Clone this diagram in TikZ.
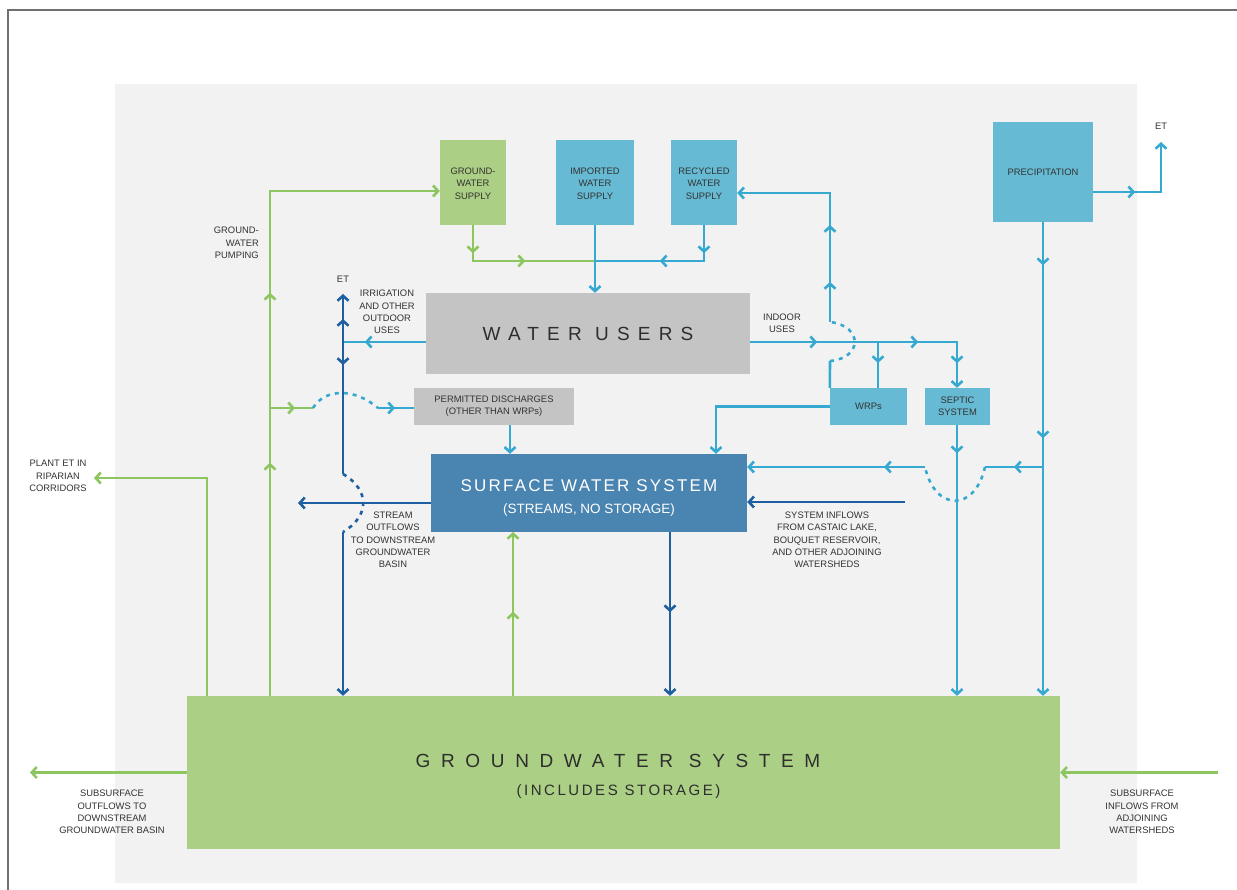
\documentclass[tikz,border=0pt]{standalone}
\usepackage{fontspec}
\setmainfont{Liberation Sans}
\newfontfamily\spacedusers[LetterSpace=43]{Liberation Sans}
\newfontfamily\spacedgw[LetterSpace=56]{Liberation Sans}
\newfontfamily\spacedsws[LetterSpace=13]{Liberation Sans}
\newfontfamily\spacedsub[LetterSpace=17]{Liberation Sans}
\usepackage{tikz}
\usetikzlibrary{arrows.meta}
\usetikzlibrary{positioning,decorations.markings}
\usepackage{xcolor}
\definecolor{bggray}{HTML}{F2F2F2}
\definecolor{framegray}{HTML}{707070}
\definecolor{linegreen}{HTML}{8DC55E}
\definecolor{boxgreen}{HTML}{ABCF84}
\definecolor{lineblue}{HTML}{35A9D0}
\definecolor{boxblue}{HTML}{66BAD3}
\definecolor{linedark}{HTML}{1D5FA0}
\definecolor{swsblue}{HTML}{4A84B0}
\definecolor{boxgray}{HTML}{C4C4C4}
\definecolor{txtgray}{HTML}{333333}
\tikzset{
    box/.style={
        inner sep=0pt,
        align=center,
        font=\fontsize{9.4}{12.3}\selectfont,
        text=txtgray
    },
    gbox/.style={box, fill=boxgreen},
    bbox/.style={box, fill=boxblue},
    ubox/.style={box, fill=boxgray},
    lbl/.style={
        inner sep=0pt,
        align=center,
        font=\fontsize{9.4}{12.3}\selectfont,
        text=txtgray
    },
    gline/.style={draw=linegreen, line width=2.6pt},
    bline/.style={draw=lineblue, line width=2.6pt},
    dline/.style={draw=linedark, line width=2.6pt},
    hop/.style={dash pattern=on 4pt off 5pt},
    midarr/.style={postaction={decorate,decoration={markings,
        mark=at position #1 with {\arrow{>}}}}},
    >={Straight Barb[length=5pt,width=11pt]}
}

\begin{document}
\begin{tikzpicture}[x=1pt, y=-1pt]
  \useasboundingbox (0,0) rectangle (1237,890);
  % Page frame and panel
  \draw[framegray, line width=1.5pt] (8,890) -- (8,10) -- (1237,10);
  \fill[bggray] (115,84) rectangle (1137,883);

  % Supplies
  \node[gbox, minimum width=66pt, minimum height=85pt] (gws) at (473,182.5) {\strut GROUND-\\WATER\\SUPPLY};
  \node[bbox, minimum width=78pt, minimum height=85pt] (imp) at (595,182.5) {\strut IMPORTED\\WATER\\SUPPLY};
  \node[bbox, minimum width=66pt, minimum height=85pt] (rec) at (704,182.5) {\strut RECYCLED\\WATER\\SUPPLY};
  \node[bbox, minimum width=100pt, minimum height=100pt] (prec) at (1043,172) {PRECIPITATION};

  % Users and discharges
  \node[ubox, minimum width=324pt, minimum height=81pt] (users) at (588,333.5)
    {\spacedusers\fontsize{19}{20}\selectfont\color{black!82}WATER USERS};
  \node[ubox, minimum width=160pt, minimum height=37pt] (perm) at (494,406.5) {PERMITTED DISCHARGES\\(OTHER THAN WRPs)};
  \node[bbox, minimum width=77pt, minimum height=37pt] (wrp) at (868.5,406.5) {WRPs};
  \node[bbox, minimum width=65pt, minimum height=37pt] (sep) at (957.5,406.5) {SEPTIC\\SYSTEM};

  % Systems
  \node[box, fill=swsblue, text=white, minimum width=316pt, minimum height=78pt] (sws) at (589,493)
    {\spacedsws\fontsize{17}{20}\selectfont\rule{0pt}{21.5pt}SURFACE WATER SYSTEM\\[9pt]
     \normalfont\fontsize{13.5}{16}\selectfont (STREAMS, NO STORAGE)};
  \node[gbox, minimum width=873pt, minimum height=153pt] (gw) at (623.5,772.5)
    {\spacedgw\fontsize{19}{20}\selectfont\color{black!82}\rule{0pt}{21.5pt}\hspace{-11pt}GROUNDWATER SYSTEM\\[16pt]
     \spacedsub\fontsize{15}{18}\selectfont\color{black!82}\hspace{-10pt}(INCLUDES STORAGE)};

  % Labels
  \node[lbl] (etTop) at (1161,126) {ET};
  \node[lbl] (etLeft) at (343,279) {ET};
  \node[lbl] (irrig) at (387,312) {IRRIGATION\\AND OTHER\\OUTDOOR\\USES};
  \node[lbl, align=right, anchor=east] (pump) at (259,243) {GROUND-\\WATER\\PUMPING};
  \node[lbl] (indoor) at (782,323) {INDOOR\\USES};
  \node[lbl] (ripar) at (58,476) {PLANT ET IN\\RIPARIAN\\CORRIDORS};
  \node[lbl] (stream) at (393,540) {STREAM\\OUTFLOWS\\TO DOWNSTREAM\\GROUNDWATER\\BASIN};
  \node[lbl] (inflow) at (827,540) {SYSTEM INFLOWS\\FROM CASTAIC LAKE,\\BOUQUET RESERVOIR,\\AND OTHER ADJOINING\\WATERSHEDS};
  \node[lbl] (subout) at (112,812) {SUBSURFACE\\OUTFLOWS TO\\DOWNSTREAM\\GROUNDWATER BASIN};
  \node[lbl] (subin) at (1142,812) {SUBSURFACE\\INFLOWS FROM\\ADJOINING\\WATERSHEDS};

  % Bend and junction points
  \coordinate (pumpTop) at (270,191);
  \coordinate (pumpBr) at (270,408);
  \coordinate (hopA) at (313,408);
  \coordinate (hopB) at (378,408);
  \coordinate (riparTop) at (207,478);
  \coordinate (riparEnd) at (94,478);
  \coordinate (gwUp) at (513,532);
  \coordinate (supJ) at (595,261);
  \coordinate (gwsJ) at (473,261);
  \coordinate (recJ) at (704,261);
  \coordinate (subOutEnd) at (30,772.5);
  \coordinate (subInStart) at (1218,772.5);
  \coordinate (irrJ) at (343,342);
  \coordinate (irrTop) at (343,294);
  \coordinate (irrHopA) at (343,474);
  \coordinate (irrHopB) at (343,532);
  \coordinate (inJ) at (957,342);
  \coordinate (wrpJ) at (878,342);
  \coordinate (wrpHopA) at (830,361);
  \coordinate (wrpHopB) at (830,322);
  \coordinate (recBack) at (830,193);
  \coordinate (wrpL) at (716,406.5);
  \coordinate (permOut) at (510,425);
  \coordinate (precJ) at (1043,467);
  \coordinate (precHopA) at (985,467);
  \coordinate (precHopB) at (925,467);
  \coordinate (etJ) at (1161,192);
  \coordinate (etEnd) at (1161,142);
  \coordinate (swsOut) at (298,503);
  \coordinate (inflowStart) at (905,502);
  \coordinate (swsDown) at (670,532);

  % Green flows
  \draw[gline, ->, midarr=233pt, midarr=403pt] (gw.north -| pumpTop) -- (pumpTop) -- (gws.west |- pumpTop);
  \draw[gline, midarr=25pt] (pumpBr) -- (hopA);
  \draw[bline, hop] (hopA) .. controls (325,388) and (355,388) .. (hopB);
  \draw[bline, midarr=17pt] (hopB) -- (perm.west |- hopB);
  \draw[gline, ->] (gw.north -| riparTop) -- (riparTop) -- (riparEnd);
  \draw[gline, ->, midarr=84pt] (gw.north -| gwUp) -- (gwUp);
  \draw[gline, midarr=28pt, midarr=88pt] (gws.south) -- (gwsJ) -- (supJ);
  \draw[gline, ->] (gw.west) -- (subOutEnd);
  \draw[gline, ->] (subInStart) -- (gw.east);

  % Light blue flows
  \draw[bline, ->] (imp.south) -- (imp.south |- users.north);
  \draw[bline, midarr=28pt, midarr=80pt] (rec.south) -- (recJ) -- (supJ);
  \draw[bline, midarr=61pt] (users.west |- irrJ) -- (irrJ);
  \draw[bline, ->, midarr=67pt, midarr=168pt, midarr=228pt] (users.east |- irrJ) -- (inJ) -- (inJ |- sep.north);
  \draw[bline, midarr=21pt] (wrpJ) -- (wrpJ |- wrp.north);
  \draw[bline] (wrp.north west) -- (wrpHopA);
  \draw[bline, hop] (wrpHopA) .. controls (863,358) and (863,326) .. (wrpHopB);
  \draw[bline, ->, midarr=40pt, midarr=97pt] (wrpHopB) -- (recBack) -- (rec.east |- recBack);
  \draw[bline, ->] (wrp.west) -- (wrpL) -- (wrpL |- sws.north);
  \draw[bline, ->] (permOut) -- (permOut |- sws.north);
  \draw[bline, ->, midarr=28pt] (sep.south -| inJ) -- (inJ |- gw.north);
  \draw[bline, ->, midarr=43pt, midarr=216pt] (prec.south) -- (prec.south |- gw.north);
  \draw[bline, midarr=29pt] (precJ) -- (precHopA);
  \draw[bline, hop] (precHopA) .. controls (975,512) and (935,512) .. (precHopB);
  \draw[bline, ->, midarr=41pt] (precHopB) -- (sws.east |- precHopB);
  \draw[bline, ->, midarr=42pt] (prec.east |- etJ) -- (etJ) -- (etEnd);

  % Dark blue flows
  \draw[dline, ->, midarr=23pt] (irrJ) -- (irrTop);
  \draw[dline, midarr=23pt] (irrJ) -- (irrHopA);
  \draw[dline, hop] (irrHopA) .. controls (370,490) and (370,516) .. (irrHopB);
  \draw[dline, ->] (irrHopB) -- (irrHopB |- gw.north);
  \draw[dline, ->] (sws.west |- swsOut) -- (swsOut);
  \draw[dline, ->] (inflowStart) -- (sws.east |- inflowStart);
  \draw[dline, ->, midarr=80pt] (sws.south -| swsDown) -- (swsDown |- gw.north);
\end{tikzpicture}
\end{document}
